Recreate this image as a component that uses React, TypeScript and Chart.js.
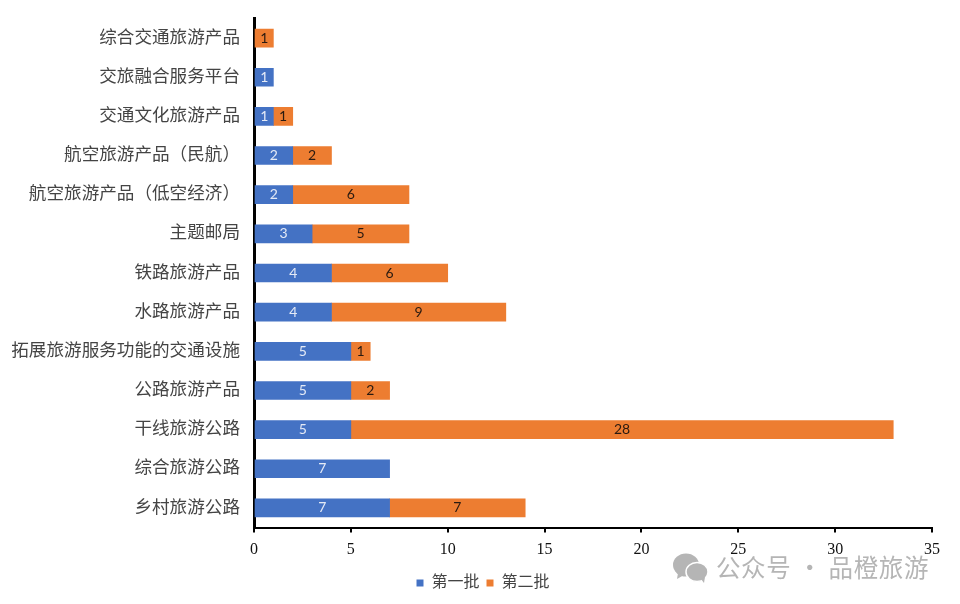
import React, { useEffect, useRef } from "react";
import { Chart, registerables } from "chart.js";

Chart.register(...registerables);

const categories = [
  "综合交通旅游产品",
  "交旅融合服务平台",
  "交通文化旅游产品",
  "航空旅游产品（民航）",
  "航空旅游产品（低空经济）",
  "主题邮局",
  "铁路旅游产品",
  "水路旅游产品",
  "拓展旅游服务功能的交通设施",
  "公路旅游产品",
  "干线旅游公路",
  "综合旅游公路",
  "乡村旅游公路",
];
const batchOne = [null, 1, 1, 2, 2, 3, 4, 4, 5, 5, 5, 7, 7];
const batchTwo = [1, null, 1, 2, 6, 5, 6, 9, 1, 2, 28, null, 7];
const xTicks = [0, 5, 10, 15, 20, 25, 30, 35];
const seriesNames = ["第一批", "第二批"];
const seriesColors = ["#4472C4", "#ED7D31"];
const labelColors = ["#E4EAF6", "#2A1A10"];
const watermark = "公众号 · 品橙旅游";

const SERIF = '"Liberation Serif", "Noto Sans CJK SC", serif';

const barLabels = {
  id: "barLabels",
  afterLayout(chart: any) {
    chart.legend.left = 34;
  },
  afterDatasetsDraw(chart: any) {
    const { ctx } = chart;
    chart.data.datasets.forEach((ds: any, i: number) => {
      const meta = chart.getDatasetMeta(i);
      meta.data.forEach((el: any, j: number) => {
        const v = ds.data[j];
        if (v == null) return;
        ctx.save();
        ctx.font = '14px Lato, "Open Sans", sans-serif';
        ctx.fillStyle = labelColors[i];
        ctx.textAlign = "center";
        ctx.textBaseline = "middle";
        ctx.fillText(String(v), (el.x + el.base) / 2, el.y);
        ctx.restore();
      });
    });
  },
};

export default function App() {
  const ref = useRef<HTMLCanvasElement>(null);
  useEffect(() => {
    document.body.style.margin = "0";
    const chart = new Chart(ref.current as HTMLCanvasElement, {
      type: "bar",
      data: {
        labels: categories,
        datasets: [
          { label: seriesNames[0], data: batchOne, backgroundColor: seriesColors[0], barThickness: 18, stack: "s" },
          { label: seriesNames[1], data: batchTwo, backgroundColor: seriesColors[1], barThickness: 18, stack: "s" },
        ],
      } as any,
      options: {
        indexAxis: "y",
        animation: false,
        responsive: false,
        layout: { padding: { top: 18.5, right: 28, left: 0, bottom: 3 } },
        plugins: {
          tooltip: { enabled: false },
          legend: {
            position: "bottom",
            labels: {
              boxWidth: 7,
              boxHeight: 7,
              padding: 7,
              color: "#444",
              font: { family: SERIF, size: 16 },
            },
          },
        },
        scales: {
          x: {
            stacked: true,
            min: 0,
            max: 35,
            afterBuildTicks(axis: any) {
              axis.ticks = xTicks.map((value) => ({ value }));
            },
            afterFit(axis: any) {
              axis.height = 40.5;
            },
            border: { color: "#000", width: 2 },
            grid: { drawOnChartArea: false, drawTicks: true, tickLength: 5, color: "#000", lineWidth: 2 },
            ticks: { color: "#111", maxRotation: 0, padding: 8, font: { family: SERIF, size: 16 } },
          },
          y: {
            stacked: true,
            afterFit(axis: any) {
              axis.width = 254;
              axis.paddingTop = 0;
              axis.paddingBottom = 0;
            },
            border: { color: "#000", width: 3 },
            grid: { display: false, drawTicks: false },
            ticks: { color: "#444", padding: 14, autoSkip: false, font: { family: SERIF, size: 17.6 } },
          },
        },
      } as any,
      plugins: [barLabels],
    });
    return () => chart.destroy();
  }, []);
  return (
    <div style={{ position: "relative", width: 960, height: 604, overflow: "hidden", background: "#fff" }}>
      <canvas ref={ref} width={960} height={604} style={{ display: "block", filter: "blur(0.4px)" }} />
      <svg width="36" height="32" viewBox="0 0 36 32" style={{ position: "absolute", left: 672, top: 552 }}>
        <ellipse cx="14" cy="13" rx="13" ry="11.5" fill="#b5b5b5" />
        <path d="M6 21 L5 27 L12 23 Z" fill="#b5b5b5" />
        <ellipse cx="25" cy="20" rx="11" ry="9.5" stroke="#fff" strokeWidth="1.5" fill="#b5b5b5" />
        <path d="M29 27 L32 31 L33 25 Z" fill="#b5b5b5" />
      </svg>
      <div
        style={{
          position: "absolute",
          left: 716,
          top: 551,
          fontFamily: '"Noto Sans CJK SC", sans-serif',
          fontSize: 24.5,
          lineHeight: "32px",
          color: "#b5b5b5",
          whiteSpace: "nowrap",
          letterSpacing: 0.6,
        }}
      >
        {watermark}
      </div>
    </div>
  );
}
